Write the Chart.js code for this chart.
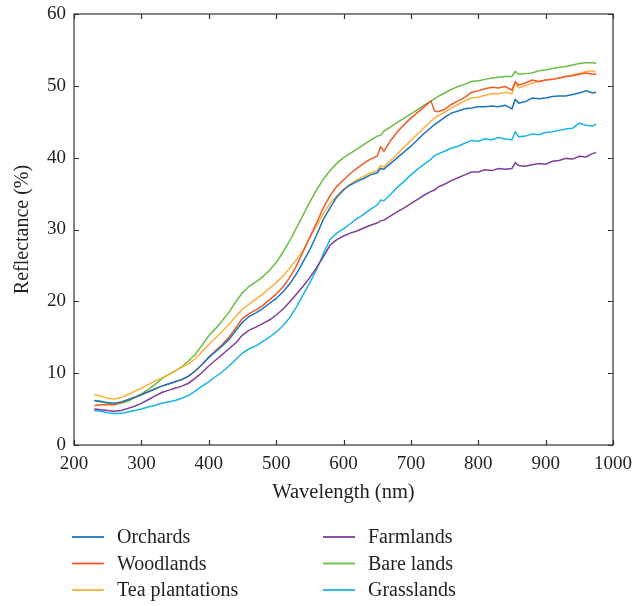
<!DOCTYPE html>
<html>
<head>
<meta charset="utf-8">
<script src="https://cdn.jsdelivr.net/npm/chart.js@4"></script>
<style>
  body { margin: 0; background: #fff; }
  #wrap { width: 632px; height: 606px; position: relative; }
</style>
</head>
<body>
<div id="wrap"><canvas id="spectra"></canvas></div>
<script>
// wavelengths (nm) the curves were read at
const wavelengths = [230,240,250,260,270,280,290,300,310,320,
  330,340,350,360,370,380,390,400,410,420,
  430,440,450,460,470,480,490,500,510,520,
  530,540,550,560,570,580,590,600,610,620,
  630,640,650,655,660,670,680,690,700,710,
  720,730,735,740,750,760,770,780,790,800,
  810,820,830,840,850,855,860,870,880,890,
  900,910,920,930,940,950,960,970,975];

const orchards = [6.2,6.1,5.9,5.8,6.0,6.3,6.6,7.0,7.4,7.8,
  8.2,8.5,8.8,9.1,9.6,10.3,11.2,12.2,13.0,13.8,
  14.7,15.9,17.1,17.9,18.4,19.0,19.7,20.4,21.3,22.4,
  23.8,25.5,27.2,29.2,31.4,33.0,34.5,35.5,36.2,36.7,
  37.1,37.6,37.9,38.5,38.4,39.2,40.0,40.8,41.6,42.5,
  43.4,44.2,44.6,44.9,45.6,46.2,46.5,46.8,46.9,47.1,
  47.1,47.2,47.1,47.3,46.8,48.1,47.6,47.8,48.3,48.2,
  48.3,48.5,48.6,48.6,48.8,49.0,49.3,49.0,49.1];

const woodlands = [5.5,5.6,5.6,5.6,5.9,6.3,6.7,7.0,7.4,7.8,
  8.2,8.5,8.8,9.1,9.6,10.3,11.2,12.2,13.1,14.0,
  15.0,16.3,17.6,18.3,18.8,19.4,20.2,21.0,22.0,23.3,
  24.9,26.9,28.9,30.9,33.0,34.7,36.0,36.9,37.8,38.5,
  39.2,39.8,40.2,41.5,40.9,42.4,43.6,44.6,45.5,46.3,
  47.1,47.9,46.5,46.4,46.7,47.4,47.9,48.4,49.1,49.3,
  49.6,49.8,49.7,49.9,49.4,50.6,50.1,50.4,50.8,50.6,
  50.8,50.9,51.1,51.3,51.4,51.6,51.8,51.6,51.6];

const teaPlantations = [7.0,6.8,6.5,6.4,6.6,7.0,7.5,7.9,8.4,8.9,
  9.3,9.8,10.3,10.8,11.3,12.0,13.0,14.0,14.9,15.8,
  16.8,17.9,18.9,19.6,20.3,21.0,21.8,22.6,23.5,24.6,
  25.8,27.1,28.9,30.5,32.2,33.6,34.7,35.6,36.3,36.9,
  37.4,37.9,38.2,38.9,38.7,39.6,40.5,41.5,42.4,43.3,
  44.2,45.1,45.5,45.8,46.3,46.9,47.4,47.9,48.3,48.4,
  48.7,48.9,48.9,49.1,48.9,50.4,49.7,50.0,50.4,50.6,
  50.8,50.9,51.1,51.3,51.5,51.7,52.0,52.1,51.9];

const farmlands = [5.0,4.9,4.8,4.7,4.8,5.1,5.4,5.8,6.3,6.8,
  7.3,7.6,7.9,8.2,8.6,9.3,10.1,11.0,11.8,12.6,
  13.4,14.2,15.3,16.0,16.4,16.9,17.4,18.1,18.9,19.9,
  21.0,22.1,23.3,24.7,26.2,27.8,28.6,29.1,29.5,29.8,
  30.2,30.6,30.9,31.2,31.3,31.9,32.5,33.0,33.6,34.2,
  34.8,35.3,35.5,35.9,36.3,36.8,37.2,37.6,38.0,38.0,
  38.3,38.2,38.5,38.4,38.5,39.3,38.9,38.8,39.0,39.2,
  39.1,39.5,39.6,39.9,39.8,40.2,40.1,40.6,40.7];

const bareLands = [6.2,6.0,5.8,5.7,5.8,6.1,6.6,7.1,7.7,8.4,
  9.2,9.8,10.3,10.9,11.7,12.6,13.9,15.2,16.2,17.3,
  18.5,19.9,21.2,22.1,22.7,23.4,24.3,25.4,26.8,28.4,
  30.2,32.0,33.8,35.5,37.0,38.2,39.2,40.0,40.6,41.2,
  41.8,42.4,43.0,43.1,43.7,44.3,44.9,45.5,46.1,46.7,
  47.3,47.9,48.2,48.5,49.0,49.5,49.9,50.2,50.6,50.7,
  50.9,51.1,51.2,51.3,51.3,52.0,51.6,51.7,51.8,52.1,
  52.2,52.4,52.6,52.7,52.9,53.1,53.2,53.2,53.1];

const grasslands = [4.8,4.7,4.5,4.4,4.4,4.6,4.8,5.0,5.3,5.5,
  5.8,6.0,6.2,6.5,6.9,7.5,8.2,8.8,9.5,10.2,
  11.0,11.9,12.8,13.4,13.8,14.4,15.0,15.7,16.6,17.7,
  19.2,20.9,22.6,24.4,26.6,28.6,29.5,30.1,30.8,31.5,
  32.1,32.8,33.4,34.1,34.0,34.9,35.9,36.7,37.6,38.4,
  39.1,39.8,40.3,40.5,40.9,41.3,41.6,42.0,42.4,42.3,
  42.6,42.5,42.8,42.6,42.5,43.6,42.9,43.0,43.3,43.2,
  43.5,43.6,43.8,44.0,44.1,44.8,44.5,44.4,44.7];

const seriesNames = ['Orchards', 'Woodlands', 'Tea plantations', 'Farmlands', 'Bare lands', 'Grasslands'];
const seriesValues = [orchards, woodlands, teaPlantations, farmlands, bareLands, grasslands];
const seriesColors = ['#1c75bc', '#f15a29', '#fbb03b', '#7f3f98', '#6abd45', '#19b5e5'];

const xTicks = [200, 300, 400, 500, 600, 700, 800, 900, 1000];
const yTicks = [0, 10, 20, 30, 40, 50, 60];

const FONT = '"Liberation Serif", "Times New Roman", serif';
const INK = '#231f20';

// box round the plot with inward tick marks, plus the two-column legend
const framePlugin = {
  id: 'frame',
  afterDraw(chart) {
    const ctx = chart.ctx;
    const a = chart.chartArea;
    const xs = chart.scales.x, ys = chart.scales.y;
    ctx.save();
    ctx.strokeStyle = '#333';
    ctx.lineWidth = 1.2;
    ctx.strokeRect(a.left, a.top, a.right - a.left, a.bottom - a.top);
    ctx.beginPath();
    xTicks.forEach(function (t) {
      const px = Math.round(xs.getPixelForValue(t)) + 0.5;
      ctx.moveTo(px, a.bottom); ctx.lineTo(px, a.bottom - 5);
      ctx.moveTo(px, a.top); ctx.lineTo(px, a.top + 5);
    });
    yTicks.forEach(function (t) {
      const py = Math.round(ys.getPixelForValue(t)) + 0.5;
      ctx.moveTo(a.left, py); ctx.lineTo(a.left + 5, py);
      ctx.moveTo(a.right, py); ctx.lineTo(a.right - 5, py);
    });
    ctx.stroke();

    // legend
    ctx.font = '20px ' + FONT;
    ctx.textBaseline = 'middle';
    ctx.textAlign = 'left';
    chart.data.datasets.forEach(function (ds, i) {
      const col = Math.floor(i / 3), row = i % 3;
      const lx = col === 0 ? 72 : 323;
      const ly = 537 + row * 26.5;
      ctx.strokeStyle = ds.borderColor;
      ctx.lineWidth = 1.8;
      ctx.beginPath();
      ctx.moveTo(lx, ly); ctx.lineTo(lx + 32, ly);
      ctx.stroke();
      ctx.fillStyle = INK;
      ctx.fillText(ds.label, lx + 45, ly + 1);
    });
    ctx.restore();
  }
};

const datasets = seriesNames.map(function (name, i) {
  return {
    label: name,
    data: wavelengths.map(function (w, j) { return { x: w, y: seriesValues[i][j] }; }),
    borderColor: seriesColors[i],
    backgroundColor: seriesColors[i],
    borderWidth: 1.5,
    pointRadius: 0,
    fill: false,
    tension: 0
  };
});

new Chart(document.getElementById('spectra'), {
  type: 'line',
  data: { datasets: datasets },
  options: {
    responsive: true,
    maintainAspectRatio: false,
    animation: false,
    layout: { padding: { left: 0, right: 19, top: 14, bottom: 99 } },
    plugins: {
      legend: { display: false },
      tooltip: { enabled: false }
    },
    scales: {
      x: {
        type: 'linear',
        min: 200,
        max: 1000,
        afterBuildTicks: function (s) { s.ticks = xTicks.map(function (v) { return { value: v }; }); },
        afterFit: function (s) { s.height = 62; s.paddingLeft = 0; s.paddingRight = 0; },
        grid: { display: false, drawTicks: false },
        border: { display: false },
        ticks: { color: INK, font: { family: FONT, size: 19 }, padding: 8, maxRotation: 0,
          callback: function (v) { return String(v); } },
        title: { display: true, text: 'Wavelength (nm)', color: INK, font: { family: FONT, size: 20.5 }, padding: { top: 0, bottom: 2 } }
      },
      y: {
        min: 0,
        max: 60,
        afterBuildTicks: function (s) { s.ticks = yTicks.map(function (v) { return { value: v }; }); },
        afterFit: function (s) { s.width = 74; s.paddingTop = 0; s.paddingBottom = 0; },
        grid: { display: false, drawTicks: false },
        border: { display: false },
        ticks: { color: INK, font: { family: FONT, size: 19 }, padding: 8 },
        title: { display: true, text: 'Reflectance (%)', color: INK, font: { family: FONT, size: 20 }, padding: { top: 11, bottom: 0 } }
      }
    }
  },
  plugins: [framePlugin]
});
</script>
</body>
</html>
